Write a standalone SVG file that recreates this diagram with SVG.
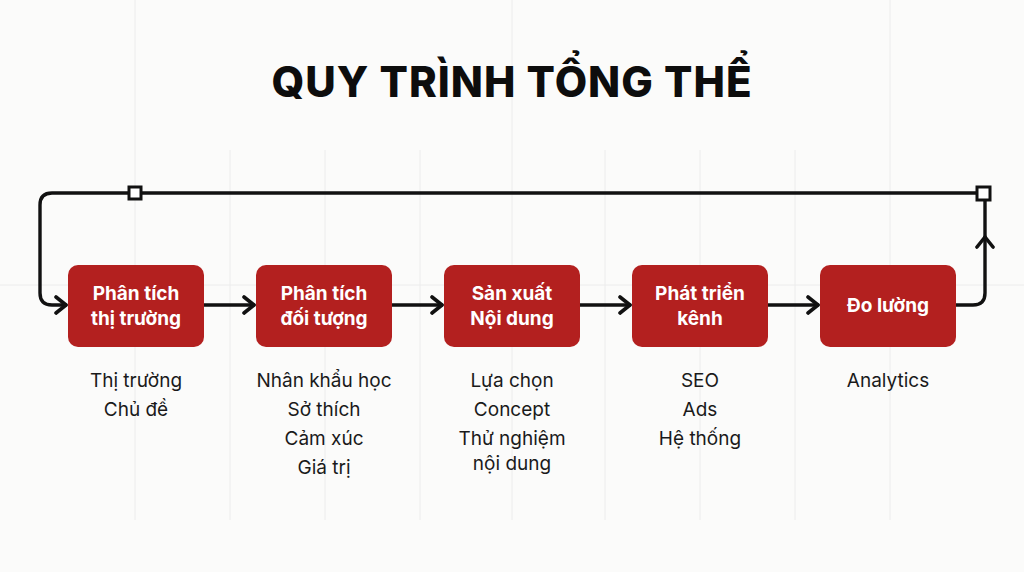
<svg xmlns="http://www.w3.org/2000/svg" width="1024" height="572" viewBox="0 0 1024 572">
<defs>
<marker id="arr" markerWidth="16" markerHeight="20" refX="13" refY="10" orient="auto" markerUnits="userSpaceOnUse">
<path d="M3,2 L13,10 L3,18" fill="none" stroke="#111" stroke-width="3.6" stroke-linecap="round" stroke-linejoin="round"/>
</marker>
<style>
.grid{stroke:#ececec;stroke-width:1}
.box{fill:#b3201f}
.bt{font-family:Inter,"Noto Sans",sans-serif;font-weight:700;font-size:19px;fill:#fff;text-anchor:middle}
.lt{font-family:Inter,"Noto Sans",sans-serif;font-size:19px;fill:#1a1a1a;text-anchor:middle}
.c{fill:none;stroke:#111;stroke-width:3.4;stroke-linecap:round;stroke-linejoin:round}
.sq{fill:#fff;stroke:#111;stroke-width:3}
</style>
</defs>
<rect width="1024" height="572" fill="#fbfbfa"/>
<g id="grid">
<line class="grid" x1="135" y1="0" x2="135" y2="520"/>
<line class="grid" x1="230" y1="150" x2="230" y2="520"/>
<line class="grid" x1="325" y1="150" x2="325" y2="520"/>
<line class="grid" x1="420" y1="150" x2="420" y2="520"/>
<line class="grid" x1="512" y1="0" x2="512" y2="520"/>
<line class="grid" x1="605" y1="150" x2="605" y2="520"/>
<line class="grid" x1="700" y1="150" x2="700" y2="520"/>
<line class="grid" x1="795" y1="150" x2="795" y2="520"/>
<line class="grid" x1="890" y1="0" x2="890" y2="520"/>
<line class="grid" x1="0" y1="285" x2="1024" y2="285"/>
</g>
<text x="512" y="97" font-family="Inter,'Noto Sans',sans-serif" font-weight="800" font-size="42" letter-spacing="1" text-anchor="middle" fill="#0d0d0d">QUY TRÌNH TỔNG THỂ</text>
<g id="connectors">
<path class="c" d="M983,193 L52,193 Q40,193 40,205 L40,293 Q40,305 52,305 L66,305" marker-end="url(#arr)"/>
<path class="c" d="M204,305 L254,305" marker-end="url(#arr)"/>
<path class="c" d="M392,305 L442,305" marker-end="url(#arr)"/>
<path class="c" d="M580,305 L630,305" marker-end="url(#arr)"/>
<path class="c" d="M768,305 L818,305" marker-end="url(#arr)"/>
<path class="c" d="M956,305 L973,305 Q985,305 985,293 L985,237" marker-end="url(#arr)"/>
<path class="c" d="M985,237 L985,200"/>
<rect class="sq" x="129" y="187" width="12" height="12"/>
<rect class="sq" x="977" y="187" width="13" height="13"/>
</g>
<g id="n1">
<rect class="box" x="68" y="265" width="136" height="82" rx="10"/>
<text class="bt" x="136" y="300">Phân tích</text>
<text class="bt" x="136" y="325">thị trường</text>
<text class="lt" x="136" y="387">Thị trường</text>
<text class="lt" x="136" y="416">Chủ đề</text>
</g>
<g id="n2">
<rect class="box" x="256" y="265" width="136" height="82" rx="10"/>
<text class="bt" x="324" y="300">Phân tích</text>
<text class="bt" x="324" y="325">đối tượng</text>
<text class="lt" x="324" y="387">Nhân khẩu học</text>
<text class="lt" x="324" y="416">Sở thích</text>
<text class="lt" x="324" y="445">Cảm xúc</text>
<text class="lt" x="324" y="474">Giá trị</text>
</g>
<g id="n3">
<rect class="box" x="444" y="265" width="136" height="82" rx="10"/>
<text class="bt" x="512" y="300">Sản xuất</text>
<text class="bt" x="512" y="325">Nội dung</text>
<text class="lt" x="512" y="387">Lựa chọn</text>
<text class="lt" x="512" y="416">Concept</text>
<text class="lt" x="512" y="445">Thử nghiệm</text>
<text class="lt" x="512" y="470">nội dung</text>
</g>
<g id="n4">
<rect class="box" x="632" y="265" width="136" height="82" rx="10"/>
<text class="bt" x="700" y="300">Phát triển</text>
<text class="bt" x="700" y="325">kênh</text>
<text class="lt" x="700" y="387">SEO</text>
<text class="lt" x="700" y="416">Ads</text>
<text class="lt" x="700" y="445">Hệ thống</text>
</g>
<g id="n5">
<rect class="box" x="820" y="265" width="136" height="82" rx="10"/>
<text class="bt" x="888" y="312">Đo lường</text>
<text class="lt" x="888" y="387">Analytics</text>
</g>
</svg>
